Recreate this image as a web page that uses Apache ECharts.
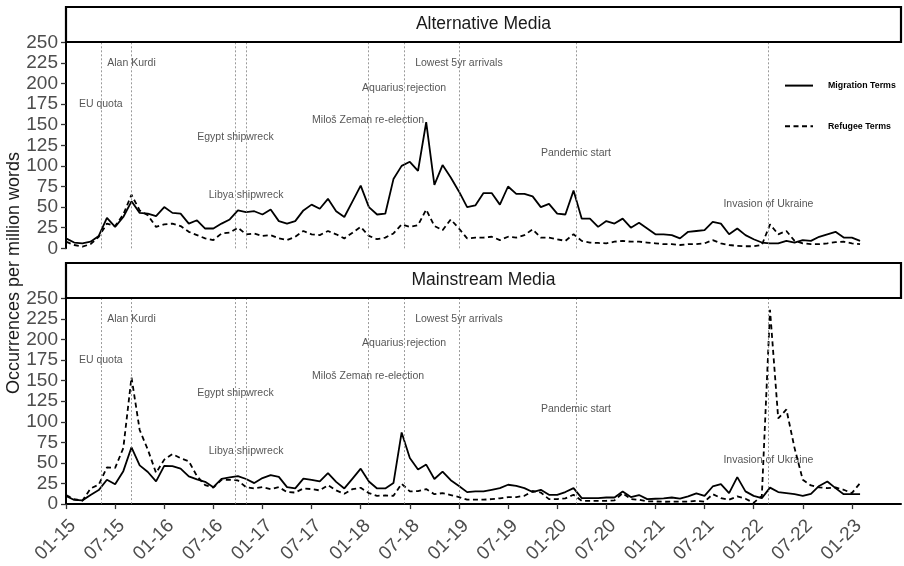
<!DOCTYPE html>
<html>
<head>
<meta charset="utf-8">
<title>Migration and refugee terms in Czech media</title>
<script src="https://cdn.jsdelivr.net/npm/echarts@6/dist/echarts.min.js"></script>
<style>
  html, body { margin: 0; padding: 0; background: #fff; }
  #chart { width: 904px; height: 566px; }
</style>
</head>
<body>
<div id="chart"></div>
<script>
// Monthly series, first value = January 2015 (x = months since Jan 2015)
const altMigration = [12,7,6,8,15,37,26,38,57,43, 42,39,50,43,42,30,34,24,24,30,
  35,46,44,45,41,47,33,30,33,46, 53,48,60,45,38,57,76,50,41,42,
  84,100,105,94,153,77,101,86,69,50, 52,67,67,53,75,66,66,63,50,54,
  42,41,70,36,36,26,33,30,36,25, 31,24,17,17,16,12,20,21,22,32,
  30,17,24,16,11,7,6,6,9,7, 10,9,14,17,20,13,13,9];
const altRefugee = [8,4,2,5,14,30,27,41,65,46, 40,26,29,30,27,20,16,12,10,18,
  19,25,17,18,15,16,12,10,14,21, 17,16,21,17,12,19,26,15,11,13,
  18,29,26,28,47,27,22,35,24,12, 13,13,14,10,14,13,16,23,13,13,
  11,9,17,9,7,6.5,6,8,9,8, 8,7,6,5,5,4,5,5,6,10,
  6,4,3,2.5,2.5,4,29,17,21,9, 6,5,5,6,7.5,8,6,5];
const mainMigration = [10,5,4.5,11,17,29.5,24,40,69,47, 39,27.5,46.5,46,43,33.6,30,27,20.5,30.5,
  32.5,34,30.5,25.5,31.6,35.2,33,20.6,19,31, 29.5,27.5,37.6,27,19,31,43,27.5,19,19,
  25.5,87,56,42,48,30.5,39.5,29,22,14.5, 15.4,15.4,17.4,19.4,23.5,22,19.4,14.6,17.4,11.3,
  11.3,14.6,19.4,7.3,7.3,7.3,8,8,15.4,8.5, 11,6,6.5,7,8,6.5,9.3,13,10,21.4,
  24.3,13.3,32.8,15.4,10,7.3,20,14.6,13.3,12, 10,12.5,22,27.5,19.4,12,12,12];
const mainRefugee = [11,6,4,19,23.5,44.5,44,68,154,90, 66,38,54,60.7,55.8,52,34,23,20,29.5,
  29.5,28.7,20.5,19,20.6,18.2,20.6,14.6,14,19, 18.2,16.6,23,16.6,12.5,18.2,19.8,13.3,10,10.5,
  10,24.7,15.4,15.8,18.2,12,13.3,11,8.5,5.3, 5.3,5.3,6,7,8.5,8.5,10,16,14,6,
  6,7,11.3,4,4,4,4,4.5,13.3,6, 5.3,3.2,3.2,2.8,3,3,3,4,3,12,
  7.3,5.3,9.3,6.5,1.5,10,236,104,115,68, 29.5,22.6,20.2,19.4,20.2,17.4,13.3,25.5];

// x-axis ticks (months since Jan 2015) and their labels
const tickMonths = [0,6,12,18,24,30,36,42,48,54,60,66,72,78,84,90,96];
const tickLabels = ['01-15','07-15','01-16','07-16','01-17','07-17','01-18','07-18','01-19',
  '07-19','01-20','07-20','01-21','07-21','01-22','07-22','01-23'];

// Events: vertical reference lines and their captions
const eventNames = ['EU quota','Alan Kurdi','Egypt shipwreck','Libya shipwreck',
  'Miloš Zeman re-election','Aquarius rejection','Lowest 5yr arrivals','Pandemic start','Invasion of Ukraine'];
const eventMonths = [4.25, 8.0, 20.7, 22.0, 36.9, 41.3, 48.0, 62.3, 85.8];
const eventLabelY = [175, 225, 135, 64, 155, 195, 225, 115, 54];

const panelTitles = ['Alternative Media', 'Mainstream Media'];
const yTicks = [0, 250, 25]; // min, max, step

const FONT = 'Liberation Sans, Arial, Helvetica, sans-serif';
const GRID_LEFT = 66, GRID_RIGHT = 3, PANEL_H = 206;
const gridTops = [42.3, 298.3];

function toPoints(values) {
  return values.map((v, i) => [i, v]);
}

function panelSeries(gi, mig, ref) {
  return [
    {
      type: 'line', name: 'Migration Terms', xAxisIndex: gi, yAxisIndex: gi,
      data: toPoints(mig), symbol: 'none', z: 4,
      lineStyle: { color: '#000', width: 1.8 }, itemStyle: { color: '#000' },
      markLine: {
        silent: true, symbol: ['none', 'none'], label: { show: false },
        lineStyle: { color: '#808080', width: 0.8, type: [2, 2] },
        data: eventMonths.map(m => ({ xAxis: m }))
      }
    },
    {
      type: 'line', name: 'Refugee Terms', xAxisIndex: gi, yAxisIndex: gi,
      data: toPoints(ref), symbol: 'none', z: 4,
      lineStyle: { color: '#000', width: 1.8, type: [5, 3.5] }, itemStyle: { color: '#000' }
    },
    {
      type: 'scatter', xAxisIndex: gi, yAxisIndex: gi, silent: true, z: 3,
      symbolSize: 0,
      data: eventMonths.map((m, k) => [m, eventLabelY[k], eventNames[k]]),
      label: {
        show: true, position: 'inside', formatter: p => p.data[2],
        fontSize: 10.5, color: '#2b2b2b', fontFamily: FONT
      }
    }
  ];
}

const grids = gridTops.map(t => ({ left: GRID_LEFT, right: GRID_RIGHT, top: t, height: PANEL_H }));

const xAxes = [0, 1].map(gi => ({
  type: 'value', gridIndex: gi, min: 0, max: 102,
  show: gi === 1,
  axisLine: { show: true, lineStyle: { color: '#000', width: 2 } },
  axisTick: { show: true, length: 5, customValues: tickMonths, lineStyle: { color: '#333', width: 1.3 } },
  axisLabel: {
    show: true, customValues: tickMonths, rotate: 45, margin: 12,
    align: 'right', verticalAlign: 'top',
    fontSize: 19, color: '#4d4d4d', fontFamily: FONT,
    formatter: v => tickLabels[tickMonths.indexOf(v)] || ''
  },
  splitLine: { show: false }
}));

const yAxes = [0, 1].map(gi => ({
  type: 'value', gridIndex: gi, min: yTicks[0], max: yTicks[1], interval: yTicks[2],
  axisLine: { show: true, lineStyle: { color: '#000', width: 2 } },
  axisTick: { show: true, length: 5, lineStyle: { color: '#333', width: 1.3 } },
  axisLabel: { fontSize: 19, color: '#4d4d4d', margin: 8, fontFamily: FONT },
  splitLine: { show: false }
}));

const stripRects = [7, 263];
const graphic = [];
stripRects.forEach((y, k) => {
  graphic.push({
    type: 'rect', z: 10,
    shape: { x: GRID_LEFT, y: y, width: 904 - GRID_LEFT - GRID_RIGHT, height: 35 },
    style: { fill: '#fff', stroke: '#000', lineWidth: 2.2 }
  });
  graphic.push({
    type: 'text', z: 11, x: GRID_LEFT + (904 - GRID_LEFT - GRID_RIGHT) / 2, y: y + 17.5,
    style: { text: panelTitles[k], fontSize: 17.5, fontFamily: FONT, fill: '#1a1a1a',
      align: 'center', verticalAlign: 'middle' }
  });
});
graphic.push({
  type: 'text', z: 11, x: 14, y: 273, rotation: Math.PI / 2,
  style: { text: 'Occurrences per million words', fontSize: 18, fontFamily: FONT, fill: '#1a1a1a',
    align: 'center', verticalAlign: 'middle' }
});

const chart = echarts.init(document.getElementById('chart'));
chart.setOption({
  animation: false,
  backgroundColor: '#fff',
  textStyle: { fontFamily: FONT },
  grid: grids,
  xAxis: xAxes,
  yAxis: yAxes,
  legend: {
    data: ['Migration Terms', 'Refugee Terms'],
    orient: 'vertical', left: 784, top: 80, padding: 0,
    itemWidth: 28, itemHeight: 14, itemGap: 29.4,
    itemStyle: { color: 'transparent', borderWidth: 0, opacity: 0 },
    textStyle: { fontSize: 8.8, fontWeight: 'bold', color: '#000', padding: [0, 0, 0, 10] }
  },
  graphic: graphic,
  series: [].concat(panelSeries(0, altMigration, altRefugee), panelSeries(1, mainMigration, mainRefugee))
});
</script>
</body>
</html>
